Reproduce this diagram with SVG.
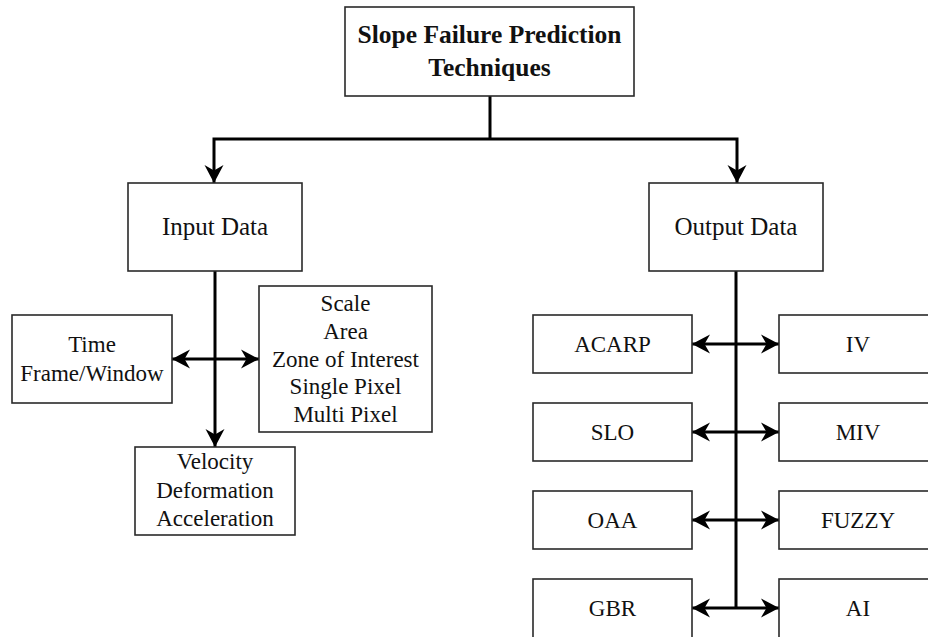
<svg xmlns="http://www.w3.org/2000/svg" width="928" height="637" viewBox="0 0 928 637">
<style>
.box{fill:#fff;stroke:#2a2a2a;stroke-width:1.6}
.t{font-family:"Liberation Serif","Times New Roman",serif;font-size:23px;fill:#111;text-anchor:middle}
.tl{font-size:25px}
.tb{font-family:"Liberation Serif","Times New Roman",serif;font-size:25.5px;font-weight:bold;fill:#111;text-anchor:middle}
.c{fill:none;stroke:#000;stroke-width:3}
</style>
<defs>
<marker id="ah" markerUnits="userSpaceOnUse" markerWidth="24" markerHeight="24" viewBox="-20 -12 24 24" refX="0" refY="0" orient="auto-start-reverse">
<path d="M0,0 L-18,-9.5 L-12.5,0 L-18,9.5 Z" fill="#000"/>
</marker>
</defs>
<g id="connectors">
<path class="c" d="M490,96 V139"/>
<path class="c" d="M214,183 V139 H737 V183" marker-start="url(#ah)" marker-end="url(#ah)"/>
<path class="c" d="M215,271 V447" marker-end="url(#ah)"/>
<path class="c" d="M172,359 H259" marker-start="url(#ah)" marker-end="url(#ah)"/>
<path class="c" d="M736,271 V608"/>
<path class="c" d="M692,344 H779" marker-start="url(#ah)" marker-end="url(#ah)"/>
<path class="c" d="M692,432 H779" marker-start="url(#ah)" marker-end="url(#ah)"/>
<path class="c" d="M692,520 H779" marker-start="url(#ah)" marker-end="url(#ah)"/>
<path class="c" d="M692,608 H779" marker-start="url(#ah)" marker-end="url(#ah)"/>
</g>
<g id="title">
<rect class="box" x="345" y="7" width="289" height="89"/>
<text class="tb" x="489.5" y="43">Slope Failure Prediction</text>
<text class="tb" x="489.5" y="76">Techniques</text>
</g>
<g id="input">
<rect class="box" x="128" y="183" width="174" height="88"/>
<text class="t tl" x="215" y="235">Input Data</text>
</g>
<g id="time">
<rect class="box" x="12" y="315" width="160" height="88"/>
<text class="t" x="92" y="352">Time</text>
<text class="t" x="92" y="381">Frame/Window</text>
</g>
<g id="scale">
<rect class="box" x="259" y="286" width="173" height="146"/>
<text class="t" x="345.5" y="311">Scale</text>
<text class="t" x="345.5" y="339">Area</text>
<text class="t" x="345.5" y="367">Zone of Interest</text>
<text class="t" x="345.5" y="394">Single Pixel</text>
<text class="t" x="345.5" y="422">Multi Pixel</text>
</g>
<g id="velocity">
<rect class="box" x="135" y="447" width="160" height="88"/>
<text class="t" x="215" y="469">Velocity</text>
<text class="t" x="215" y="498">Deformation</text>
<text class="t" x="215" y="526">Acceleration</text>
</g>
<g id="output">
<rect class="box" x="649" y="183" width="174" height="88"/>
<text class="t tl" x="736" y="235">Output Data</text>
</g>
<g id="acarp"><rect class="box" x="533" y="315" width="159" height="58"/><text class="t" x="612.5" y="352">ACARP</text></g>
<g id="iv"><rect class="box" x="779" y="315" width="160" height="58"/><text class="t" x="858" y="352">IV</text></g>
<g id="slo"><rect class="box" x="533" y="403" width="159" height="58"/><text class="t" x="612.5" y="440">SLO</text></g>
<g id="miv"><rect class="box" x="779" y="403" width="160" height="58"/><text class="t" x="858" y="440">MIV</text></g>
<g id="oaa"><rect class="box" x="533" y="491" width="159" height="58"/><text class="t" x="612.5" y="528">OAA</text></g>
<g id="fuzzy"><rect class="box" x="779" y="491" width="160" height="58"/><text class="t" x="858" y="528">FUZZY</text></g>
<g id="gbr"><rect class="box" x="533" y="579" width="159" height="70"/><text class="t" x="612.5" y="616">GBR</text></g>
<g id="ai"><rect class="box" x="779" y="579" width="160" height="70"/><text class="t" x="858" y="616">AI</text></g>
</svg>
